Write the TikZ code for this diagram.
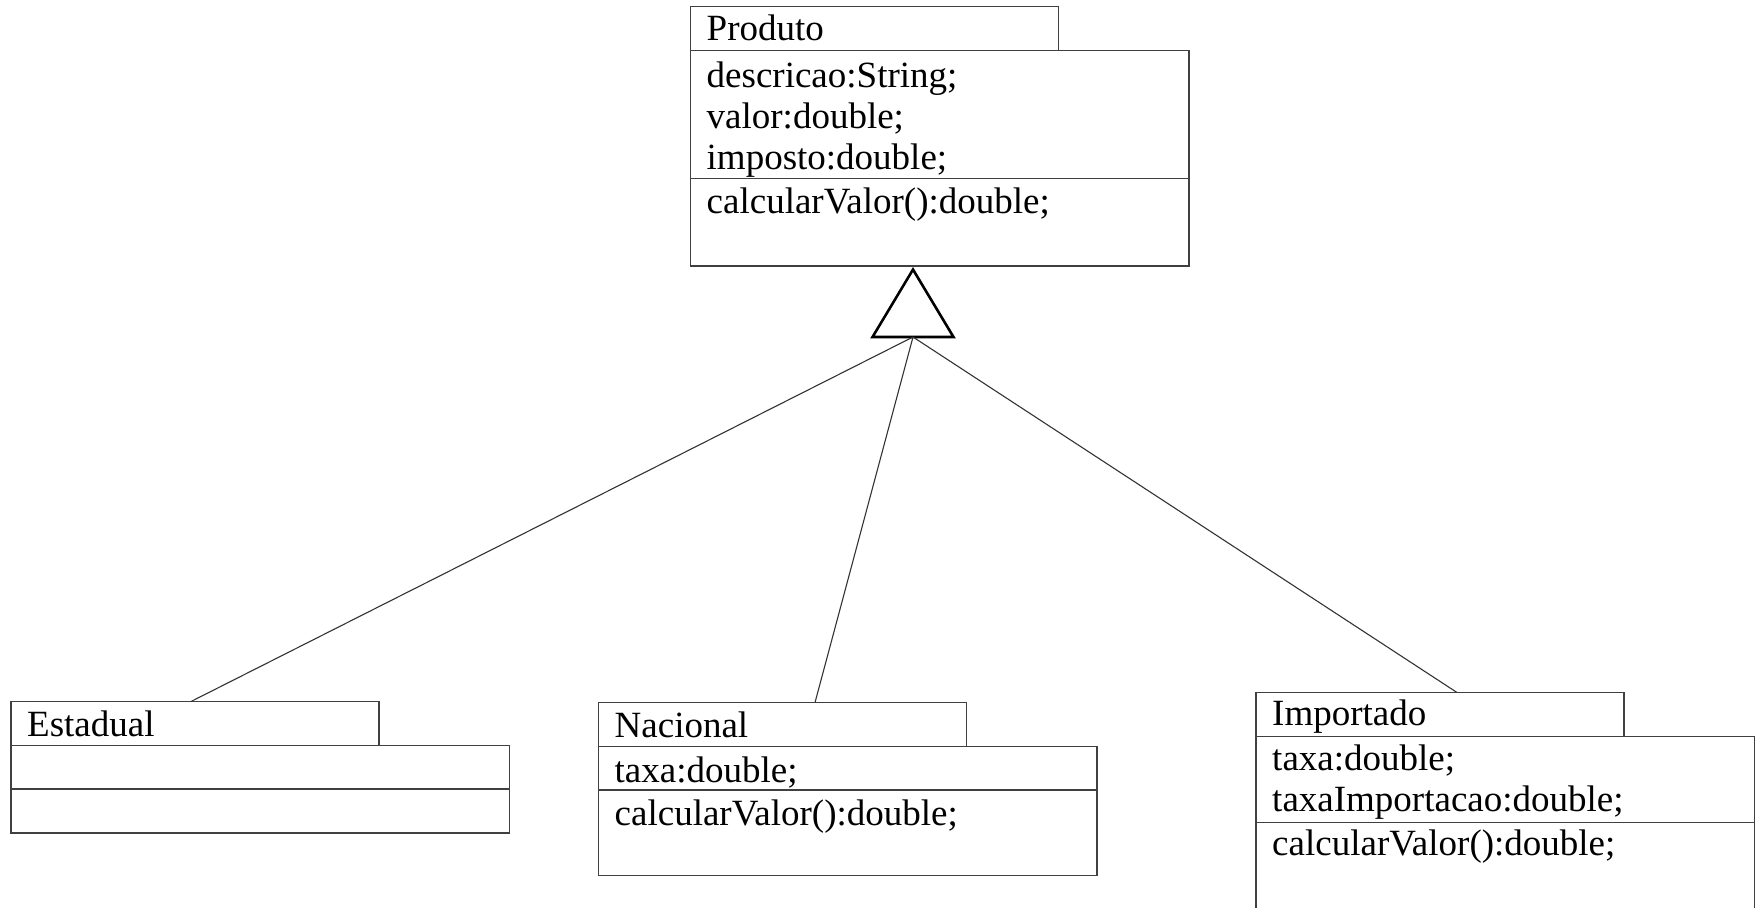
\documentclass[tikz,border=0pt]{standalone}
\usepackage{fontspec}
\setmainfont{Liberation Serif}
\definecolor{boxline}{HTML}{404040}
\definecolor{linkc}{HTML}{333333}
\begin{document}
\begin{tikzpicture}[x=1pt,y=-1pt,
  box/.style={draw=boxline, line width=1.4pt, anchor=north west, inner sep=0pt, outer sep=0pt},
  tabbox/.style={box, minimum width=368pt, minimum height=44pt},
  lbl/.style={anchor=base west, inner sep=0pt, font=\fontsize{37}{41}\selectfont},
  link/.style={draw=linkc, line width=1.1pt},
  gen/.style={draw=black, line width=2.6pt, line join=miter}]
\useasboundingbox (0,0) rectangle (1760,907);

% Produto
\node[tabbox] (pTab) at (690.5,6.5) {};
\node[box, minimum width=498.5pt, minimum height=215.5pt] (pMain) at (690.5,50.5) {};
\coordinate (pSepL) at (690.5,178.5);
\coordinate (pSepR) at (1189,178.5);
\draw[draw=boxline, line width=1.4pt] (pSepL) -- (pSepR);
\node[lbl] (pName) at (706.5,40.5) {Produto};
\node[lbl] (pA1) at (706.5,87.5) {descricao:String;};
\node[lbl] (pA2) at (706.5,128.5) {valor:double;};
\node[lbl] (pA3) at (706.5,169.5) {imposto:double;};
\node[lbl] (pM1) at (706.5,213) {calcularValor():double;};

% generalisation triangle
\coordinate (triApex) at (913,269.5);
\coordinate (triL) at (872.5,337);
\coordinate (triR) at (953.5,337);
\coordinate (tri) at (913,337);
\draw[gen] (triApex) -- (triL) -- (triR) -- cycle;

% Estadual
\node[tabbox] (eTab) at (11,701.5) {};
\node[box, minimum width=498.5pt, minimum height=87.5pt] (eMain) at (11,745.5) {};
\coordinate (eSepL) at (11,789);
\coordinate (eSepR) at (509.5,789);
\draw[draw=boxline, line width=1.4pt] (eSepL) -- (eSepR);
\node[lbl] (eName) at (27,736.5) {Estadual};

% Nacional
\node[tabbox] (nTab) at (598.5,702.5) {};
\node[box, minimum width=498.5pt, minimum height=129pt] (nMain) at (598.5,746.5) {};
\coordinate (nSepL) at (598.5,790);
\coordinate (nSepR) at (1097,790);
\draw[draw=boxline, line width=1.4pt] (nSepL) -- (nSepR);
\node[lbl] (nName) at (614.5,737.5) {Nacional};
\node[lbl] (nA1) at (614.5,782) {taxa:double;};
\node[lbl] (nM1) at (614.5,825) {calcularValor():double;};

% Importado
\node[tabbox] (iTab) at (1256,692.5) {};
\node[box, minimum width=498.5pt, minimum height=230pt] (iMain) at (1256,736.5) {};
\coordinate (iSepL) at (1256,822.5);
\coordinate (iSepR) at (1754.5,822.5);
\draw[draw=boxline, line width=1.4pt] (iSepL) -- (iSepR);
\node[lbl] (iName) at (1272,725.5) {Importado};
\node[lbl] (iA1) at (1272,770.5) {taxa:double;};
\node[lbl] (iA2) at (1272,811.5) {taxaImportacao:double;};
\node[lbl] (iM1) at (1272,855.5) {calcularValor():double;};

% connectors
\coordinate (eEnd) at (191,701.5);
\coordinate (nEnd) at (815,702.5);
\coordinate (iEnd) at (1457,692.5);
\draw[link] (tri) -- (eEnd);
\draw[link] (tri) -- (nEnd);
\draw[link] (tri) -- (iEnd);
\end{tikzpicture}
\end{document}
